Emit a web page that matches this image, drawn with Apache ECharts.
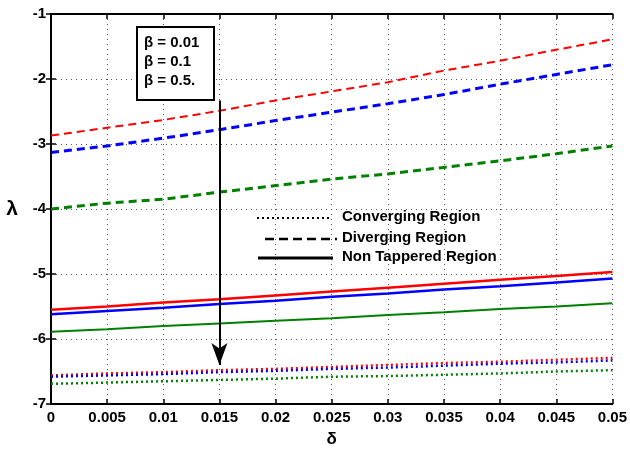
<!DOCTYPE html>
<html><head><meta charset="utf-8">
<script src="https://cdn.jsdelivr.net/npm/echarts@6/dist/echarts.min.js"></script>
<style>html,body{margin:0;padding:0;background:#fff}#c{width:630px;height:453px}</style>
</head><body><div id="c"></div>
<script>
const delta = [0,0.005,0.01,0.015,0.02,0.025,0.03,0.035,0.04,0.045,0.05];
const divRed   = [-2.87,-2.75,-2.63,-2.49,-2.33,-2.19,-2.05,-1.87,-1.72,-1.55,-1.39];
const divBlue  = [-3.13,-3.03,-2.91,-2.78,-2.64,-2.51,-2.38,-2.24,-2.08,-1.93,-1.78];
const divGreen = [-4.00,-3.91,-3.85,-3.74,-3.64,-3.54,-3.46,-3.36,-3.26,-3.15,-3.03];
const nonRed   = [-5.55,-5.50,-5.44,-5.39,-5.33,-5.27,-5.21,-5.15,-5.09,-5.03,-4.97];
const nonBlue  = [-5.62,-5.57,-5.52,-5.46,-5.41,-5.35,-5.30,-5.24,-5.19,-5.13,-5.07];
const nonGreen = [-5.89,-5.85,-5.80,-5.76,-5.72,-5.68,-5.63,-5.59,-5.54,-5.50,-5.45];
const conRed   = [-6.56,-6.53,-6.51,-6.48,-6.46,-6.43,-6.40,-6.37,-6.35,-6.32,-6.29];
const conBlue  = [-6.58,-6.56,-6.54,-6.51,-6.49,-6.46,-6.44,-6.41,-6.38,-6.36,-6.33];
const conGreen = [-6.69,-6.67,-6.65,-6.63,-6.61,-6.58,-6.57,-6.55,-6.53,-6.50,-6.48];
const xTicks = ['0','0.005','0.01','0.015','0.02','0.025','0.03','0.035','0.04','0.045','0.05'];
const betaLabels = ['\u03b2 = 0.01','\u03b2 = 0.1','\u03b2 = 0.5.'];
const legendLabels = ['Converging Region','Diverging Region','Non Tappered Region'];

const RED='#ff0000', BLUE='#0000ff', GREEN='#008000';
const pts = arr => arr.map((v,i)=>[delta[i],v]);
function ser(data,color,type,width){
  return {type:'line',data:pts(data),showSymbol:false,symbol:'none',
    lineStyle:{color:color,width:width,type:type},z:3,animation:false};
}
const font = 'Liberation Sans, Arial, sans-serif';
const chart = echarts.init(document.getElementById('c'));
const axisLine = {show:true,lineStyle:{color:'#000',width:2}};
chart.setOption({
  animation:false,
  grid:{left:51,right:16,top:14,bottom:48,containLabel:false},
  xAxis:[{type:'value',min:0,max:0.05,interval:0.005,
    axisLine:axisLine,axisTick:{inside:true,length:5,lineStyle:{color:'#000',width:1.5}},
    axisLabel:{margin:6,color:'#000',fontWeight:'bold',fontSize:15,fontFamily:font,
      formatter:(v)=>{const i=Math.round(v/0.005);return xTicks[i]!==undefined?xTicks[i]:'';}},
    splitLine:{show:true,lineStyle:{color:'#555',type:[1,4],width:1}},
    name:'\u03b4',nameLocation:'middle',nameGap:27,
    nameTextStyle:{color:'#000',fontWeight:'bold',fontSize:17,fontFamily:font}},
   {type:'value',position:'top',min:0,max:0.05,interval:0.005,
    axisLine:axisLine,axisTick:{inside:true,length:5,lineStyle:{color:'#000',width:1.5}},
    axisLabel:{show:false},splitLine:{show:false}}],
  yAxis:[{type:'value',min:-7,max:-1,interval:1,
    axisLine:axisLine,axisTick:{inside:true,length:5,lineStyle:{color:'#000',width:1.5}},
    axisLabel:{margin:5,color:'#000',fontWeight:'bold',fontSize:15,fontFamily:font},
    splitLine:{show:true,lineStyle:{color:'#555',type:[1,4],width:1}},
    name:'\u03bb',nameLocation:'middle',nameGap:33,nameRotate:0,
    nameTextStyle:{color:'#000',fontWeight:'bold',fontSize:21,fontFamily:font}},
   {type:'value',position:'right',min:-7,max:-1,interval:1,
    axisLine:axisLine,axisTick:{inside:true,length:5,lineStyle:{color:'#000',width:1.5}},
    axisLabel:{show:false},splitLine:{show:false}}],
  series:[
    ser(divRed,RED,[8,5],2),
    ser(divBlue,BLUE,[8,5],3),
    ser(divGreen,GREEN,[8,5],3),
    ser(nonRed,RED,'solid',2.5),
    ser(nonBlue,BLUE,'solid',2.5),
    ser(nonGreen,GREEN,'solid',2),
    ser(conRed,RED,[2,3],2.5),
    ser(conBlue,BLUE,[2,3],2.5),
    ser(conGreen,GREEN,[2,3],2.5),
    {type:'line',data:[],markLine:{silent:true,symbol:['none','arrow'],symbolSize:[12,22],
      label:{show:false},lineStyle:{color:'#000',width:2,type:'solid'},
      data:[[{coord:[0.015,-2.33]},{coord:[0.015,-6.4]}]]},z:5}
  ],
  graphic:[
    {type:'rect',shape:{x:137,y:27,width:77,height:73},style:{fill:'#fff',stroke:'#000',lineWidth:2},z:10},
    {type:'text',left:144,top:35,style:{text:betaLabels[0],font:'bold 15px '+font,fill:'#000'},z:11},
    {type:'text',left:144,top:54,style:{text:betaLabels[1],font:'bold 15px '+font,fill:'#000'},z:11},
    {type:'text',left:144,top:73,style:{text:betaLabels[2],font:'bold 15px '+font,fill:'#000'},z:11},
    {type:'line',shape:{x1:257,y1:218,x2:331,y2:218},style:{stroke:'#000',lineWidth:2,lineDash:[2,3]},z:10},
    {type:'line',shape:{x1:265,y1:239,x2:337,y2:239},style:{stroke:'#000',lineWidth:2.5,lineDash:[9,5]},z:10},
    {type:'line',shape:{x1:258,y1:258,x2:333,y2:258},style:{stroke:'#000',lineWidth:3},z:10},
    {type:'text',left:342,top:209,style:{text:legendLabels[0],font:'bold 15px '+font,fill:'#000'},z:11},
    {type:'text',left:342,top:230,style:{text:legendLabels[1],font:'bold 15px '+font,fill:'#000'},z:11},
    {type:'text',left:342,top:249,style:{text:legendLabels[2],font:'bold 15px '+font,fill:'#000'},z:11}
  ]
});
</script></body></html>
